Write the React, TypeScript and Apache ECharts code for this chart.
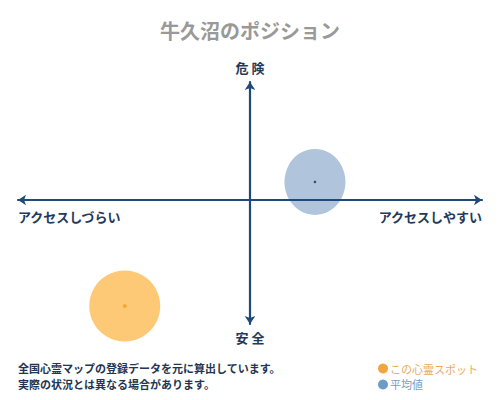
import { useEffect, useRef } from "react";
import * as echarts from "echarts";

// 位置データ（x: アクセスしづらい -1 〜 1 アクセスしやすい, y: 安全 -1 〜 1 危険）
const spotPoint = [-0.54, -0.88];
const averagePoint = [0.28, 0.15];

const seriesNames = ["この心霊スポット", "平均値"];
const axisTexts = ["危 険", "安 全", "アクセスしづらい", "アクセスしやすい"];
const noteLines = [
  "全国心霊マップの登録データを元に算出しています。",
  "実際の状況とは異なる場合があります。",
];

const FONT = '"Noto Sans CJK JP", "Noto Sans", sans-serif';
const AXIS_COLOR = "#1d4a7a";
const LABEL_COLOR = "#1f3a5c";

function buildOption(): echarts.EChartsOption {
  const axisLine = {
    onZero: true,
    symbol: ["arrow", "arrow"],
    symbolSize: [8, 8],
    lineStyle: { color: AXIS_COLOR, width: 2.2 },
  };
  return {
    animation: false,
    backgroundColor: "#ffffff",
    title: {
      text: "牛久沼のポジション",
      left: "center",
      top: 15,
      textStyle: { color: "#999999", fontSize: 20, fontWeight: "bold", fontFamily: FONT },
    },
    grid: { left: 18, right: 18, top: 82, bottom: 76 },
    xAxis: {
      type: "value",
      min: -1,
      max: 1,
      z: 5,
      axisLine,
      axisTick: { show: false },
      axisLabel: { show: false },
      splitLine: { show: false },
    },
    yAxis: {
      type: "value",
      min: -1.03,
      max: 0.98,
      z: 5,
      axisLine,
      axisTick: { show: false },
      axisLabel: { show: false },
      splitLine: { show: false },
    },
    legend: {
      orient: "vertical",
      left: 373,
      top: 358,
      itemWidth: 10,
      itemHeight: 10,
      itemGap: 5,
      icon: "circle",
      selectedMode: false,
      textStyle: { fontSize: 11, fontFamily: FONT, padding: [0, 0, 0, -3] },
      data: [
        { name: seriesNames[0], itemStyle: { color: "#f2a440" }, textStyle: { color: "#e8ac58" } },
        { name: seriesNames[1], itemStyle: { color: "#6f9cc6" }, textStyle: { color: "#7b9dc0" } },
      ],
    },
    series: [
      {
        name: seriesNames[0],
        type: "scatter",
        symbol: "circle",
        symbolSize: [71, 71],
        itemStyle: { color: "#fec976", opacity: 1 },
        data: [spotPoint],
      },
      {
        name: seriesNames[1],
        type: "scatter",
        symbol: "circle",
        symbolSize: [61, 66],
        itemStyle: { color: "#b0c4db", opacity: 1 },
        data: [averagePoint],
      },
      {
        name: "spot-center",
        type: "scatter",
        symbol: "diamond",
        symbolSize: 5,
        silent: true,
        itemStyle: { color: "#f0a020" },
        data: [spotPoint],
      },
      {
        name: "average-center",
        type: "scatter",
        symbol: "circle",
        symbolSize: 2.5,
        silent: true,
        itemStyle: { color: "#1c2a3a" },
        data: [averagePoint],
      },
    ],
    graphic: [
      {
        type: "text",
        x: 250,
        y: 67,
        style: {
          text: axisTexts[0],
          fill: LABEL_COLOR,
          font: `bold 13px ${FONT}`,
          textAlign: "center",
          textVerticalAlign: "middle",
        },
      },
      {
        type: "text",
        x: 250,
        y: 337,
        style: {
          text: axisTexts[1],
          fill: LABEL_COLOR,
          font: `bold 13px ${FONT}`,
          textAlign: "center",
          textVerticalAlign: "middle",
        },
      },
      {
        type: "text",
        x: 18,
        y: 216,
        style: {
          text: axisTexts[2],
          fill: LABEL_COLOR,
          font: `bold 13px ${FONT}`,
          textAlign: "left",
          textVerticalAlign: "middle",
        },
      },
      {
        type: "text",
        x: 482,
        y: 216,
        style: {
          text: axisTexts[3],
          fill: LABEL_COLOR,
          font: `bold 13px ${FONT}`,
          textAlign: "right",
          textVerticalAlign: "middle",
        },
      },
      ...noteLines.map((line, i) => ({
        type: "text" as const,
        x: 18,
        y: 368 + i * 16,
        style: {
          text: line,
          fill: "#1f3550",
          font: `bold 11px ${FONT}`,
          textAlign: "left",
          textVerticalAlign: "middle",
        },
      })),
    ],
  };
}

export default function App() {
  const ref = useRef<HTMLDivElement | null>(null);

  useEffect(() => {
    const el = ref.current;
    if (!el) return;
    const chart = echarts.init(el, undefined, { renderer: "svg" });
    chart.setOption(buildOption());
    return () => {
      chart.dispose();
    };
  }, []);

  return (
    <div
      ref={ref}
      style={{ position: "fixed", left: 0, top: 0, width: 500, height: 400 }}
    />
  );
}
